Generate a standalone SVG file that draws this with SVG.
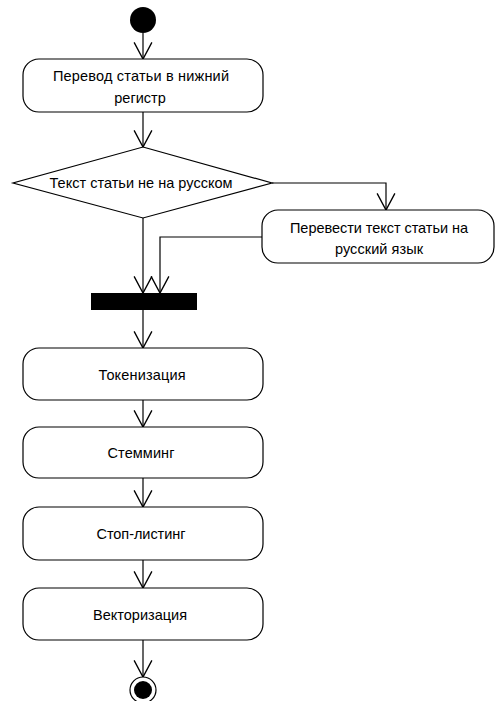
<svg xmlns="http://www.w3.org/2000/svg" width="495" height="701" viewBox="0 0 495 701">
<style>
.node{fill:#fff;stroke:#000;stroke-width:1.2}
.t{font-family:"Liberation Sans",Arial,sans-serif;font-size:14.5px;fill:#000;text-anchor:middle}
.c{fill:none;stroke:#000;stroke-width:1.2}
</style>
<defs>
<marker id="arr" markerUnits="userSpaceOnUse" markerWidth="20" markerHeight="20" viewBox="-16 -9 18 18" refX="0" refY="0" orient="auto">
<path d="M-15,-8 L0,0 L-15,8" fill="none" stroke="#000" stroke-width="1.2"/>
</marker>
</defs>
<rect width="495" height="701" fill="#fff"/>
<g id="connectors">
<path class="c" d="M143,33 V59" marker-end="url(#arr)"/>
<path class="c" d="M143,112 V147" marker-end="url(#arr)"/>
<path class="c" d="M272,183 H386 V210" marker-end="url(#arr)"/>
<path class="c" d="M143,218 V293" marker-end="url(#arr)"/>
<path class="c" d="M262,237 H160 V293" marker-end="url(#arr)"/>
<path class="c" d="M143,310 V348" marker-end="url(#arr)"/>
<path class="c" d="M143,400 V427" marker-end="url(#arr)"/>
<path class="c" d="M143,478 V507" marker-end="url(#arr)"/>
<path class="c" d="M143,560 V588" marker-end="url(#arr)"/>
<path class="c" d="M143,640 V677" marker-end="url(#arr)"/>
</g>
<g id="start"><circle cx="143" cy="20" r="13" fill="#000"/></g>
<g id="lower">
<rect class="node" x="23" y="59" width="240" height="53" rx="16"/>
<text class="t" x="141" y="81" textLength="176">Перевод статьи в нижний</text>
<text class="t" x="140" y="103">регистр</text>
</g>
<g id="decision">
<polygon class="node" points="143,147 272,183 143,218 13,183"/>
<text class="t" x="141" y="188" textLength="183">Текст статьи не на русском</text>
</g>
<g id="translate">
<rect class="node" x="262" y="210" width="232" height="53" rx="16"/>
<text class="t" x="379" y="233" textLength="178">Перевести текст статьи на</text>
<text class="t" x="379" y="254" textLength="88">русский язык</text>
</g>
<g id="join"><rect x="91" y="293" width="106" height="17" fill="#000"/></g>
<g id="tokenize">
<rect class="node" x="23" y="348" width="240" height="52" rx="16"/>
<text class="t" x="142" y="380" textLength="87">Токенизация</text>
</g>
<g id="stemming">
<rect class="node" x="23" y="427" width="240" height="51" rx="16"/>
<text class="t" x="141" y="458" textLength="67">Стемминг</text>
</g>
<g id="stoplist">
<rect class="node" x="23" y="507" width="240" height="53" rx="16"/>
<text class="t" x="141" y="539" textLength="89">Стоп-листинг</text>
</g>
<g id="vectorize">
<rect class="node" x="23" y="588" width="240" height="52" rx="16"/>
<text class="t" x="140" y="620" textLength="94">Векторизация</text>
</g>
<g id="end">
<circle cx="143" cy="690" r="13" fill="#fff" stroke="#000" stroke-width="1.2"/>
<circle cx="143" cy="690" r="9" fill="#000"/>
</g>
</svg>
